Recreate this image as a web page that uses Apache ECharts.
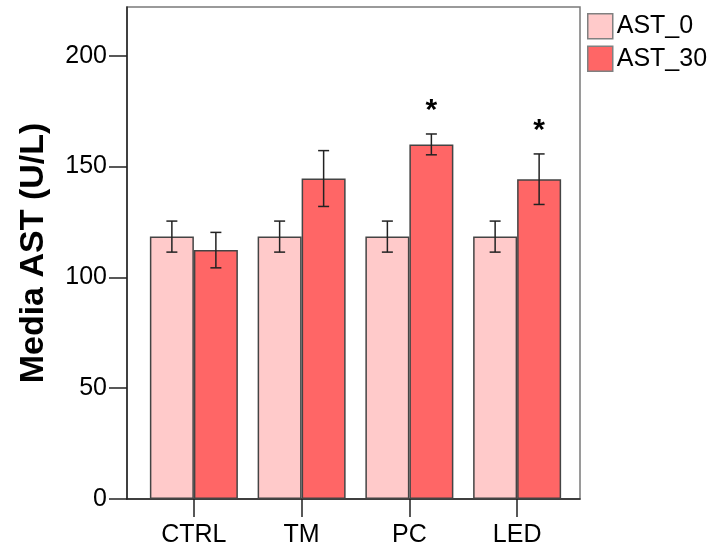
<!DOCTYPE html>
<html>
<head>
<meta charset="utf-8">
<script src="https://cdn.jsdelivr.net/npm/echarts@6/dist/echarts.min.js"></script>
<style>html,body{margin:0;padding:0;background:#fff}#c{width:710px;height:550px}</style>
</head>
<body>
<div id="c"></div>
<script>
// ---- data ----
var categories = ['CTRL', 'TM', 'PC', 'LED'];
var seriesNames = ['AST_0', 'AST_30'];
var ast0 = [118.4, 118.4, 118.4, 118.4];
var ast0Err = [7, 7, 7, 7];
var ast30 = [112.3, 144.6, 160.0, 144.3];
var ast30Err = [8, 12.6, 4.7, 11.4];
var significant = [false, false, true, true];
var yTicks = [0, 50, 100, 150, 200];
var yTitle = 'Media AST (U/L)';

// ---- style ----
var FONT = '"Liberation Sans", Arial, sans-serif';
var BAR_W = 44;
var colors = ['#FFCACA', '#FF6666'];

function errData(mean, err) {
  return mean.map(function (m, i) { return [i, m - err[i], m + err[i]]; });
}
function errSeries(mean, err, side) {
  return {
    type: 'custom',
    xAxisIndex: 0, yAxisIndex: 0,
    z: 5,
    silent: true,
    encode: { x: 0, y: [1, 2] },
    data: errData(mean, err),
    renderItem: function (params, api) {
      var i = api.value(0);
      var lo = api.coord([i, api.value(1)]);
      var hi = api.coord([i, api.value(2)]);
      var x = lo[0] + side * BAR_W / 2;
      var hw = 5.5;
      var st = { stroke: '#222', lineWidth: 1.5 };
      return {
        type: 'group',
        children: [
          { type: 'line', shape: { x1: x, y1: lo[1], x2: x, y2: hi[1] }, style: st },
          { type: 'line', shape: { x1: x - hw, y1: lo[1], x2: x + hw, y2: lo[1] }, style: st },
          { type: 'line', shape: { x1: x - hw, y1: hi[1], x2: x + hw, y2: hi[1] }, style: st }
        ]
      };
    }
  };
}
var starData = [];
significant.forEach(function (s, i) { if (s) starData.push([i, ast30[i] + ast30Err[i]]); });

var chart = echarts.init(document.getElementById('c'), null, { renderer: 'canvas' });
chart.setOption({
  animation: false,
  backgroundColor: '#fff',
  textStyle: { fontFamily: FONT },
  grid: [
    { left: 140, right: 139, top: 7, bottom: 51, containLabel: false },
    { left: 127, right: 130, top: 7, bottom: 51, show: true, borderColor: '#7a7a7a', borderWidth: 1.5, backgroundColor: 'transparent' }
  ],
  legend: {
    orient: 'vertical',
    left: 587, top: 13, padding: 0,
    itemWidth: 25, itemHeight: 25, itemGap: 6,
    icon: 'rect',
    data: seriesNames,
    itemStyle: { borderColor: '#808080', borderWidth: 1.5 },
    textStyle: { fontSize: 25, color: '#000', fontFamily: FONT, padding: [0, 0, 0, -1] }
  },
  xAxis: [
    {
      type: 'category', gridIndex: 0, data: categories,
      axisLine: { show: false },
      axisTick: { show: true, alignWithLabel: true, length: 18, lineStyle: { color: '#222', width: 1.5 } },
      axisLabel: { fontSize: 25, color: '#000', margin: 24, fontFamily: FONT },
      splitLine: { show: false }
    },
    {
      type: 'value', gridIndex: 1, min: 0, max: 1,
      axisLine: { show: true, onZero: false, lineStyle: { color: '#222', width: 1.5 } },
      axisTick: { show: false }, axisLabel: { show: false }, splitLine: { show: false }
    }
  ],
  yAxis: [
    {
      type: 'value', gridIndex: 0, min: 0, max: 222, interval: 50,
      offset: 13,
      name: yTitle, nameLocation: 'middle', nameGap: 76,
      nameTextStyle: { fontSize: 34, fontWeight: 'bold', color: '#000', fontFamily: FONT },
      axisLine: { show: true, lineStyle: { color: '#222', width: 1.5 } },
      axisTick: { show: true, length: 18, customValues: yTicks, lineStyle: { color: '#222', width: 1.5 } },
      axisLabel: { fontSize: 25, color: '#000', margin: 20, customValues: yTicks, fontFamily: FONT },
      splitLine: { show: false }
    },
    { type: 'value', gridIndex: 1, show: false, min: 0, max: 1 }
  ],
  series: [
    {
      name: seriesNames[0], type: 'bar', xAxisIndex: 0, yAxisIndex: 0,
      data: ast0, barWidth: BAR_W, barGap: '0%',
      itemStyle: { color: colors[0], borderColor: '#444', borderWidth: 1.5 }
    },
    {
      name: seriesNames[1], type: 'bar', xAxisIndex: 0, yAxisIndex: 0,
      data: ast30, barWidth: BAR_W, barGap: '0%',
      itemStyle: { color: colors[1], borderColor: '#444', borderWidth: 1.5 }
    },
    errSeries(ast0, ast0Err, -1),
    errSeries(ast30, ast30Err, 1),
    {
      type: 'custom', xAxisIndex: 0, yAxisIndex: 0, z: 6, silent: true,
      encode: { x: 0, y: 1 },
      data: starData,
      renderItem: function (params, api) {
        var p = api.coord([api.value(0), api.value(1)]);
        return {
          type: 'text',
          style: {
            text: '*', x: p[0] + BAR_W / 2, y: p[1] - 23,
            align: 'center', verticalAlign: 'middle',
            font: 'bold 30px ' + FONT, fill: '#000'
          }
        };
      }
    }
  ]
});
</script>
</body>
</html>
